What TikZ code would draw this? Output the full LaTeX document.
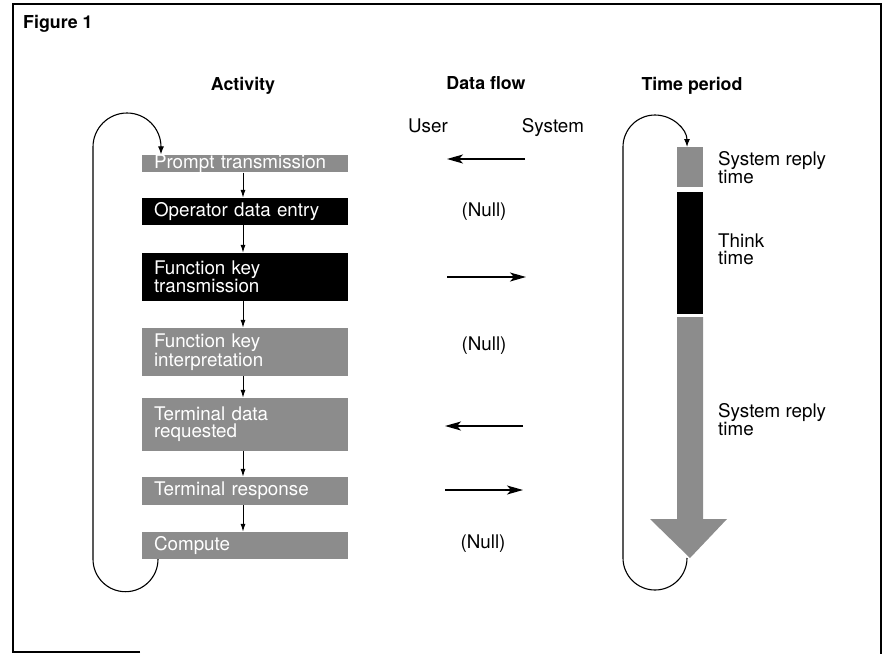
\documentclass[tikz,border=0pt]{standalone}
\usepackage{fontspec}
\setmainfont{TeX Gyre Heros}
\usetikzlibrary{arrows.meta}

\definecolor{screen}{gray}{0.55}
\newcommand{\bodyfont}{\fontsize{18.8}{17}\selectfont}
\newcommand{\headfont}{\fontsize{17.8}{20}\selectfont\bfseries}

\begin{document}
\begin{tikzpicture}[x=1pt,y=1pt,
  actbox/.style={fill=screen,text=white,text width=182pt,inner xsep=12pt,inner ysep=0pt,align=left,font=\bodyfont},
  actblack/.style={actbox,fill=black},
  colhead/.style={anchor=base,font=\headfont,inner sep=0pt},
  txt/.style={font=\bodyfont,inner sep=0pt},
  timelabel/.style={txt,anchor=north west,align=left},
  stepline/.style={-{Latex[length=8pt,width=5pt]},line width=1pt},
  dataflow/.style={-{Stealth[length=16pt,width=9pt,inset=4pt]},line width=1.2pt},
  loopline/.style={-{Latex[length=8pt,width=6pt]},line width=1.1pt}]
\useasboundingbox (0,0) rectangle (889,-654);
% frame
\draw[line width=1.5pt] (140,-652) -- (13,-652) -- (13,-4) -- (881,-4) -- (881,-654);

% headings
\node[txt,anchor=base west,font=\headfont] (fig) at (23,-28) {Figure 1};
\node[colhead] (hact) at (243,-90) {Activity};
\node[colhead] (hflow) at (486,-89) {Data flow};
\node[colhead] (htime) at (692,-90) {Time period};
\node[txt,anchor=base] (user) at (428,-132) {User};
\node[txt,anchor=base] (system) at (553,-132) {System};

% activities
\node[actbox,minimum height=17pt] (prompt) at (245,-163.5) {Prompt transmission};
\node[actblack,minimum height=27pt] (entry) at (245,-211.5) {Operator data entry};
\node[actblack,minimum height=48pt] (fktrans) at (245,-277) {Function key\\transmission};
\node[actbox,minimum height=48pt] (fkinter) at (245,-352) {Function key\\interpretation};
\node[actbox,minimum height=53pt] (request) at (245,-424.5) {Terminal data\\requested};
\node[actbox,minimum height=28pt] (response) at (245,-491) {Terminal response};
\node[actbox,minimum height=27pt] (compute) at (245,-545.5) {Compute};

\foreach \a/\b in {prompt/entry,entry/fktrans,fktrans/fkinter,fkinter/request,request/response,response/compute}
  \draw[stepline] ([xshift=-2pt]\a.south) -- ([xshift=-2pt]\b.north);

\draw[loopline] ([xshift=-87pt]compute.south) arc[start angle=0,end angle=-180,radius=32.5]
  -- (93,-147) arc[start angle=180,end angle=0,radius=34] -- ([xshift=-84pt]prompt.north);

% data flow
\coordinate (s1) at (525,-159); \coordinate (u1) at (447,-159);
\coordinate (u3) at (447,-277); \coordinate (s3) at (526,-277);
\coordinate (s5) at (523,-426); \coordinate (u5) at (445,-426);
\coordinate (u6) at (445,-490); \coordinate (s6) at (523,-490);
\draw[dataflow] (s1) -- (u1);
\draw[dataflow] (u3) -- (s3);
\draw[dataflow] (s5) -- (u5);
\draw[dataflow] (u6) -- (s6);
\node[txt] (null1) at (484,-212) {(Null)};
\node[txt] (null2) at (484,-346) {(Null)};
\node[txt] (null3) at (483,-544) {(Null)};

% time period
\fill[screen] (677,-147) rectangle (703,-187);
\fill[black] (677,-192) rectangle (703,-314);
\fill[screen] (677,-317) -- (703,-317) -- (703,-519) -- (727,-519) -- (690,-558)
  -- (650,-519) -- (677,-519) -- cycle;
\coordinate (tip) at (687,-558);
\draw[loopline] (tip) arc[start angle=0,end angle=-180,radius=32]
  -- (623,-147) arc[start angle=180,end angle=0,radius=32];
\node[timelabel] (reply1) at (718,-151) {System reply\\time};
\node[timelabel] (think) at (718,-234) {Think\\time};
\node[timelabel] (reply2) at (718,-403) {System reply\\time};
\end{tikzpicture}
\end{document}
